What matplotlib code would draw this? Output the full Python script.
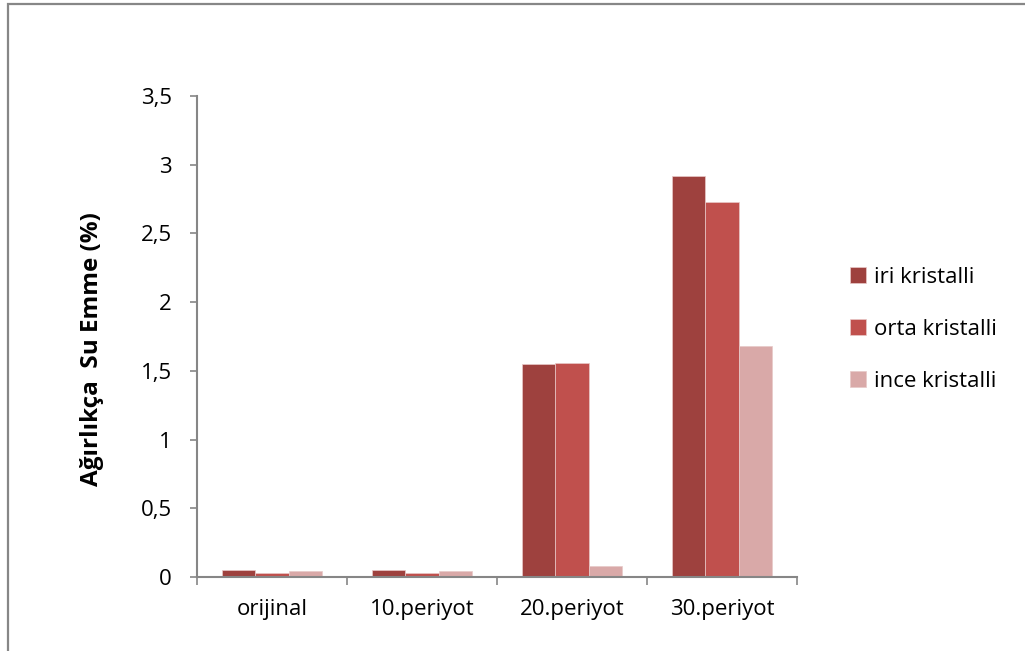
import matplotlib
matplotlib.use("Agg")
import matplotlib.pyplot as plt
import numpy as np
from matplotlib.patches import Rectangle

categories = ["orijinal", "10.periyot", "20.periyot", "30.periyot"]
series_names = ["iri kristalli", "orta kristalli", "ince kristalli"]
iri = [0.05, 0.05, 1.55, 2.92]
orta = [0.03, 0.03, 1.555, 2.73]
ince = [0.045, 0.045, 0.08, 1.68]
yticks = [0, 0.5, 1, 1.5, 2, 2.5, 3, 3.5]
ytick_labels = ["0", "0,5", "1", "1,5", "2", "2,5", "3", "3,5"]
colors = ["#9E413E", "#C0504D", "#D9A9A8"]

plt.rcParams['font.family'] = ['Open Sans', 'DejaVu Sans']
fig = plt.figure(figsize=(10.25, 6.51), dpi=100)
ax = fig.add_axes([197/1025, 1-577/651, 600/1025, 481/651])

axis_gray = "#868686"
x = np.arange(len(categories))
bw = 1/4.5
for i, (vals, name, c) in enumerate(zip([iri, orta, ince], series_names, colors)):
    ax.bar(x + (i-1)*bw, vals, width=bw, color=c, label=name,
           edgecolor="#E8C9C8", linewidth=0.5)

fs = 16
ax.set_xlim(-0.5, len(categories)-0.5)
ax.set_ylim(0, 3.5)
ax.set_yticks(yticks)
ax.set_yticklabels(ytick_labels, fontsize=fs)
ax.set_xticks(x)
ax.set_xticklabels(categories, fontsize=fs)
ax.set_xticks(np.arange(-0.5, len(categories)), minor=True)
ax.tick_params(axis='x', which='major', length=0, pad=16)
ax.tick_params(axis='x', which='minor', length=6, color=axis_gray, width=1.2, direction='out')
ax.tick_params(axis='y', length=5, color=axis_gray, width=1.2, direction='out', pad=13)
for s in ['top', 'right']:
    ax.spines[s].set_visible(False)
for s in ['left', 'bottom']:
    ax.spines[s].set_color(axis_gray)
    ax.spines[s].set_linewidth(1.5)

ax.set_ylabel("Ağırlıkça  Su Emme (%)", fontsize=17.5, fontweight='bold')
ax.yaxis.set_label_coords(-0.155, 0.473)

leg = ax.legend(loc='center left', bbox_to_anchor=(1.055, 0.515), frameon=False,
                fontsize=fs, handlelength=0.7, handleheight=0.7, handletextpad=0.4,
                labelspacing=1.4)

# outer frame
fig.patches.append(Rectangle((8/1025, -0.05), 1.1, 1 - 4.5/651 + 0.05,
                             transform=fig.transFigure, fill=False,
                             edgecolor="#878787", linewidth=1.6))

fig.savefig("out.png", dpi=100)
